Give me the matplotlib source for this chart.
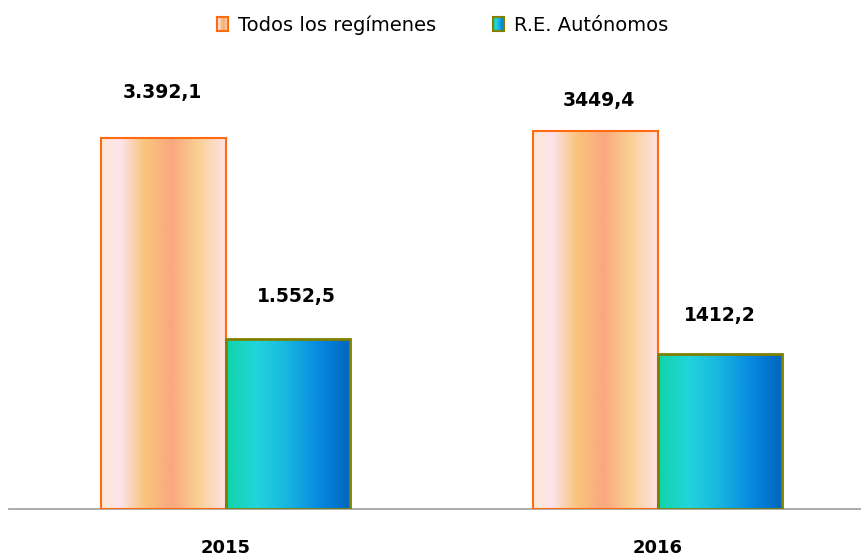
import numpy as np
import matplotlib
matplotlib.use("Agg")
import matplotlib.pyplot as plt
from matplotlib.colors import LinearSegmentedColormap
from matplotlib.patches import Rectangle
from matplotlib.legend_handler import HandlerBase
from matplotlib.image import BboxImage
from matplotlib.transforms import Bbox, TransformedBbox

# ---- data ----
years = ["2015", "2016"]
series_names = ["Todos los regímenes", "R.E. Autónomos"]
todos = [3392.1, 3449.4]
autonomos = [1552.5, 1412.2]
todos_labels = ["3.392,1", "3449,4"]
autonomos_labels = ["1.552,5", "1412,2"]

# ---- style ----
orange_cmap = LinearSegmentedColormap.from_list("org", [
    (0.00, "#FCE8D4"), (0.15, "#FDE4EE"), (0.35, "#F9C47C"),
    (0.57, "#F9A880"), (0.78, "#FAD094"), (1.00, "#FDE2E4")])
teal_cmap = LinearSegmentedColormap.from_list("teal", [
    (0.00, "#10D4A8"), (0.25, "#22D4DC"), (0.50, "#18B4E0"),
    (0.75, "#0888E0"), (1.00, "#0064BC")])
orange_edge = "#FF6A13"
teal_edge = "#808000"

plt.rcParams['font.family'] = ['DejaVu Sans']

W, H = 861, 557
fig = plt.figure(figsize=(W / 100, H / 100), dpi=100)
ax = fig.add_axes([9 / W, (H - 508.7) / H, 852 / W, 508.7 / H])

x = np.arange(len(years))
bw = 0.288
grad = np.linspace(0, 1, 256)[None, :]

# label offsets in pixels above bar top (positions, not data)
off_todos = [(-1, 45), (3, 31)]
off_auto = [(8, 42), (0, 39)]


def grad_bars(xs, vals, cmap, edge, lw):
    bars = ax.bar(xs, vals, width=bw, facecolor="none", edgecolor=edge,
                  linewidth=lw, zorder=3)
    for b in bars:
        x0, y0 = b.get_x(), b.get_y()
        im = ax.imshow(grad, cmap=cmap, aspect="auto", interpolation="bilinear",
                       extent=[x0, x0 + b.get_width(), y0, y0 + b.get_height()],
                       zorder=2)
        im.set_clip_path(b)
    return bars


b1 = grad_bars(x - bw / 2, todos, orange_cmap, orange_edge, 1.5)
b2 = grad_bars(x + bw / 2, autonomos, teal_cmap, teal_edge, 2.0)

for xi, v, lab, (dx, dy) in zip(x - bw / 2, todos, todos_labels, off_todos):
    ax.annotate(lab, (xi, v), xytext=(dx * 0.72, dy * 0.72), textcoords="offset points",
                ha="center", va="center", fontsize=13.5, fontweight="bold", color="#000000")
for xi, v, lab, (dx, dy) in zip(x + bw / 2, autonomos, autonomos_labels, off_auto):
    ax.annotate(lab, (xi, v), xytext=(dx * 0.72, dy * 0.72), textcoords="offset points",
                ha="center", va="center", fontsize=13.5, fontweight="bold", color="#000000")

ax.set_xlim(-0.5013, 1.4696)
ax.set_ylim(0, 4651)
ax.set_xticks(x)
ax.set_xticklabels(years, fontsize=13, fontweight="bold")
ax.tick_params(axis="x", length=0, pad=22)
ax.set_yticks([])
for s in ["top", "right", "left"]:
    ax.spines[s].set_visible(False)
ax.spines["bottom"].set_color("#A6A6A6")
ax.spines["bottom"].set_linewidth(1.3)
ax.spines["bottom"].set_zorder(1)
ax.patch.set_alpha(0)


class HandlerGradient(HandlerBase):
    def __init__(self, cmap, edge, lw):
        super().__init__()
        self.cmap, self.edge, self.lw = cmap, edge, lw

    def create_artists(self, legend, orig_handle, xdescent, ydescent,
                       width, height, fontsize, trans):
        bb = Bbox.from_bounds(-xdescent, -ydescent, width, height)
        img = BboxImage(TransformedBbox(bb, trans), cmap=self.cmap,
                        interpolation="bilinear")
        img.set_data(np.linspace(0, 1, 64)[None, :])
        rect = Rectangle((-xdescent, -ydescent), width, height, facecolor="none",
                         edgecolor=self.edge, linewidth=self.lw, transform=trans)
        return [img, rect]


h1 = Rectangle((0, 0), 1, 1)
h2 = Rectangle((0, 0), 1, 1)
fig.legend([h1, h2], series_names, loc="center", ncol=2, frameon=False,
           bbox_to_anchor=(442.5 / W, 1 - 25 / H), fontsize=14,
           handlelength=0.6, handleheight=0.7, handletextpad=0.5, columnspacing=2.9,
           handler_map={h1: HandlerGradient(orange_cmap, orange_edge, 1.5),
                        h2: HandlerGradient(teal_cmap, teal_edge, 1.5)})

fig.savefig("out.png", dpi=100)
